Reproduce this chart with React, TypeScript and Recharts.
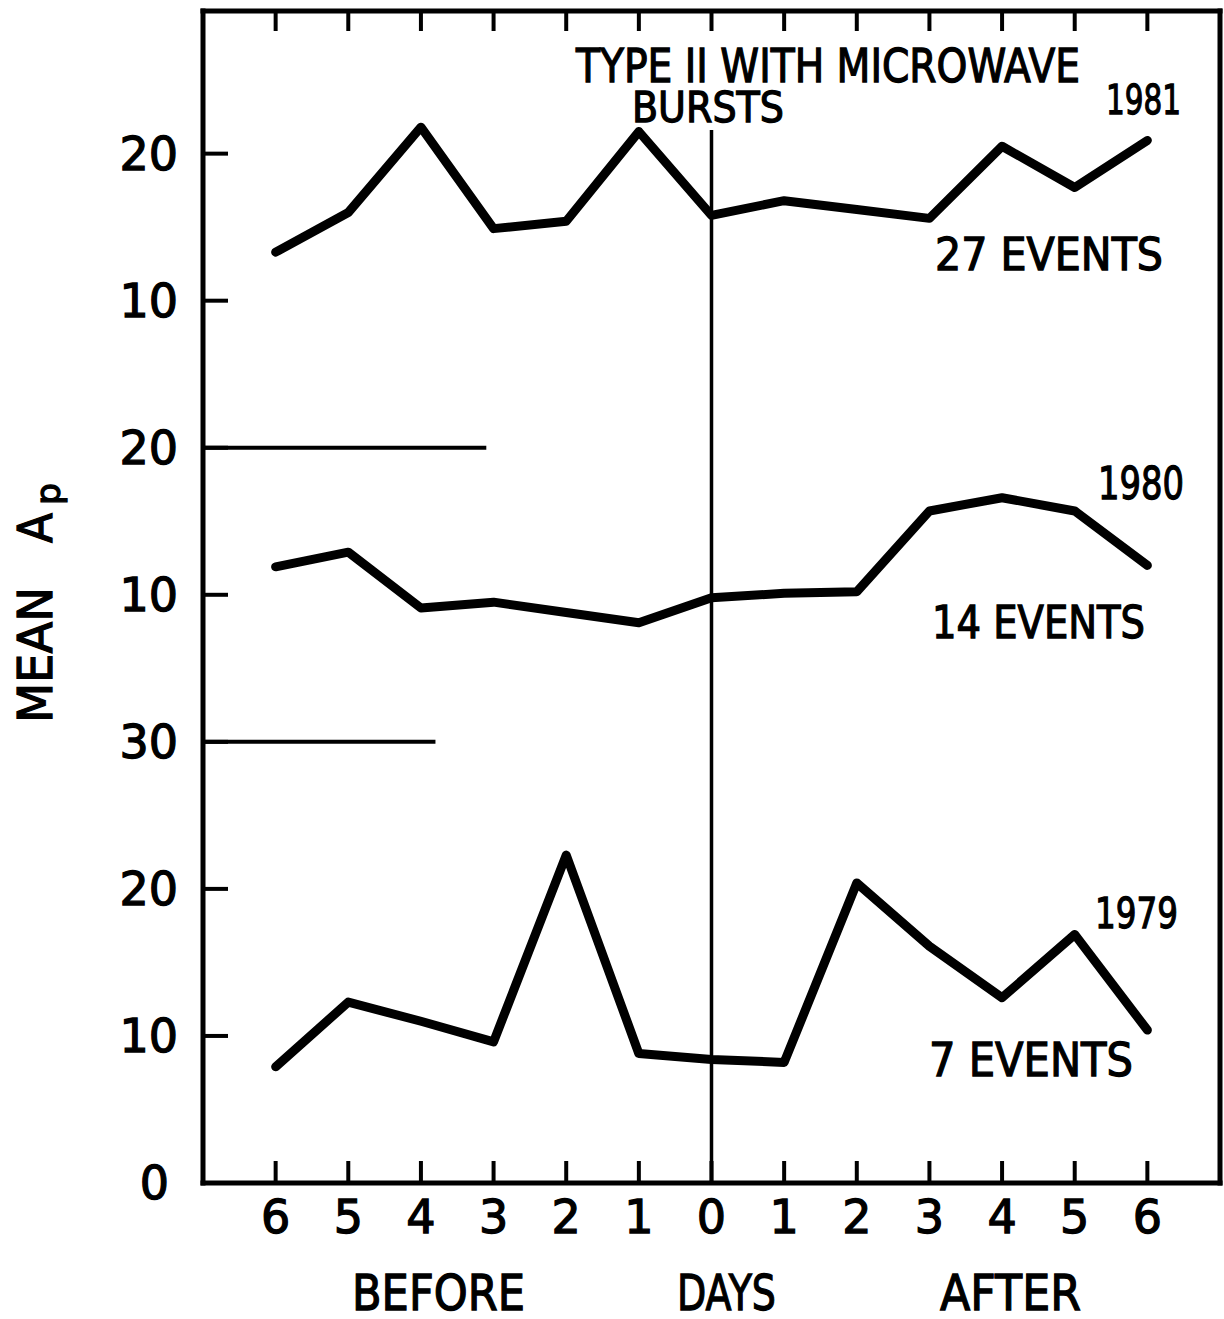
import React from 'react';
import { LineChart, Line, XAxis, YAxis, ReferenceLine } from 'recharts';

// days relative to the event (negative = before)
const days = [-6, -5, -4, -3, -2, -1, 0, 1, 2, 3, 4, 5, 6];

// mean Ap per day, one stacked panel per year
const ap1979 = [7.9, 12.3, 11.0, 9.6, 22.3, 8.8, 8.4, 8.2, 20.4, 16.1, 12.6, 16.9, 10.4];
const ap1980 = [11.9, 12.9, 9.1, 9.5, 8.8, 8.1, 9.8, 10.1, 10.2, 15.7, 16.6, 15.7, 12.0];
const ap1981 = [13.3, 16.0, 21.8, 14.9, 15.4, 21.5, 15.8, 16.8, 16.2, 15.6, 20.5, 17.7, 20.9];

// panel baselines on the shared vertical scale
const base1979 = 0;
const base1980 = 30;
const base1981 = 50;

const yTicks = [0, 10, 20, 30, 40, 50, 60, 70];
const yTickLabels = ['0', '10', '20', '30', '10', '20', '10', '20'];

const data = days.map((d, i) => ({
  day: d,
  y1979: base1979 + ap1979[i],
  y1980: base1980 + ap1980[i],
  y1981: base1981 + ap1981[i],
}));

const FONT = '"DejaVu Sans", sans-serif';
const INK = '#000';
// lettering is a touch heavier than the regular face
const textStyle = { fontFamily: FONT, fill: INK, stroke: INK, strokeWidth: 1.3 };

const BottomTick = (props: any) => {
  const { x, y, payload } = props;
  return (
    <g>
      <line x1={x} y1={y} x2={x} y2={y - 22} stroke={INK} strokeWidth={4} />
      <text x={x} y={y + 50} textAnchor="middle" fontSize={46} style={textStyle}>
        {Math.abs(payload.value)}
      </text>
    </g>
  );
};

const TopTick = (props: any) => {
  const { x, y } = props;
  return <line x1={x} y1={y} x2={x} y2={y + 20} stroke={INK} strokeWidth={4} />;
};

const LeftTick = (props: any) => {
  const { x, y, payload } = props;
  const label = yTickLabels[yTicks.indexOf(payload.value)];
  return (
    <g>
      {payload.value !== 0 && <line x1={x} y1={y} x2={x + 25} y2={y} stroke={INK} strokeWidth={4} />}
      <text x={payload.value === 0 ? x - 34 : x - 25} y={y + 16} textAnchor="end" fontSize={46} style={textStyle}>
        {label}
      </text>
    </g>
  );
};

const RightTick = (props: any) => {
  const { x, y, payload } = props;
  if (payload.value === 0) return <g />;
  return <line x1={x} y1={y} x2={x - 20} y2={y} stroke={INK} strokeWidth={4} />;
};

const Txt = ({ x, y, w, size, children, rotate }: any) => (
  <text
    x={rotate ? 0 : x}
    y={rotate ? 0 : y}
    transform={rotate ? `translate(${x},${y}) rotate(-90)` : undefined}
    fontSize={size}
    style={textStyle}
    textLength={w}
    lengthAdjust="spacingAndGlyphs"
  >
    {children}
  </text>
);

export default function App() {
  const axisLine = { stroke: INK, strokeWidth: 5, strokeLinecap: 'square' as const };
  return (
    <div style={{ position: 'absolute', left: 0, top: 0, width: 1224, height: 1319, background: '#fff' }}>
      <LineChart width={1224} height={1319} data={data} margin={{ top: 0, right: 0, bottom: 0, left: 0 }}>
        <XAxis
          xAxisId="bottom"
          dataKey="day"
          type="number"
          domain={[-7, 7]}
          ticks={days}
          interval={0}
          height={136}
          tickSize={0}
          tickMargin={0}
          tickLine={false}
          axisLine={axisLine}
          tick={<BottomTick />}
        />
        <XAxis
          xAxisId="top"
          orientation="top"
          dataKey="day"
          type="number"
          domain={[-7, 7]}
          ticks={days}
          interval={0}
          height={11}
          tickSize={0}
          tickMargin={0}
          tickLine={false}
          axisLine={axisLine}
          tick={<TopTick />}
        />
        <YAxis
          yAxisId="left"
          type="number"
          domain={[0, 79.7]}
          ticks={yTicks}
          interval={0}
          width={203}
          tickSize={0}
          tickMargin={0}
          tickLine={false}
          axisLine={axisLine}
          tick={<LeftTick />}
        />
        <YAxis
          yAxisId="right"
          orientation="right"
          type="number"
          domain={[0, 79.7]}
          ticks={yTicks}
          interval={0}
          width={4}
          tickSize={0}
          tickMargin={0}
          tickLine={false}
          axisLine={axisLine}
          tick={<RightTick />}
        />
        <ReferenceLine
          xAxisId="bottom"
          yAxisId="left"
          segment={[{ x: 0, y: 0 }, { x: 0, y: 71.6 }]}
          stroke={INK}
          strokeWidth={3.5}
        />
        <ReferenceLine
          xAxisId="bottom"
          yAxisId="left"
          segment={[{ x: -7, y: base1981 }, { x: -3.1, y: base1981 }]}
          stroke={INK}
          strokeWidth={4}
        />
        <ReferenceLine
          xAxisId="bottom"
          yAxisId="left"
          segment={[{ x: -7, y: base1980 }, { x: -3.8, y: base1980 }]}
          stroke={INK}
          strokeWidth={4}
        />
        <Line xAxisId="bottom" yAxisId="left" type="linear" dataKey="y1981" stroke={INK} strokeWidth={9}
          strokeLinejoin="round" strokeLinecap="round" dot={false} isAnimationActive={false} />
        <Line xAxisId="bottom" yAxisId="left" type="linear" dataKey="y1980" stroke={INK} strokeWidth={9}
          strokeLinejoin="round" strokeLinecap="round" dot={false} isAnimationActive={false} />
        <Line xAxisId="bottom" yAxisId="left" type="linear" dataKey="y1979" stroke={INK} strokeWidth={9}
          strokeLinejoin="round" strokeLinecap="round" dot={false} isAnimationActive={false} />
      </LineChart>

      <svg width={1224} height={1319} style={{ position: 'absolute', left: 0, top: 0, pointerEvents: 'none' }}>
        <Txt x={576} y={82} w={504} size={46}>TYPE II WITH MICROWAVE</Txt>
        <Txt x={632} y={122} w={152} size={42}>BURSTS</Txt>
        <Txt x={1106} y={114} w={75} size={41}>1981</Txt>
        <Txt x={935} y={270} w={228} size={44}>27 EVENTS</Txt>
        <Txt x={1098} y={499} w={86} size={44}>1980</Txt>
        <Txt x={932} y={638} w={213} size={44}>14 EVENTS</Txt>
        <Txt x={1095} y={928} w={83} size={43}>1979</Txt>
        <Txt x={929} y={1076} w={204} size={46}>7 EVENTS</Txt>

        <Txt x={352} y={1310} w={173} size={50}>BEFORE</Txt>
        <Txt x={677} y={1310} w={99} size={50}>DAYS</Txt>
        <Txt x={940} y={1310} w={141} size={50}>AFTER</Txt>

        <Txt x={52} y={723} w={136} size={48} rotate>MEAN</Txt>
        <Txt x={52} y={543} w={30} size={48} rotate>A</Txt>
        <Txt x={60} y={505} w={22} size={33} rotate>p</Txt>
      </svg>
    </div>
  );
}
